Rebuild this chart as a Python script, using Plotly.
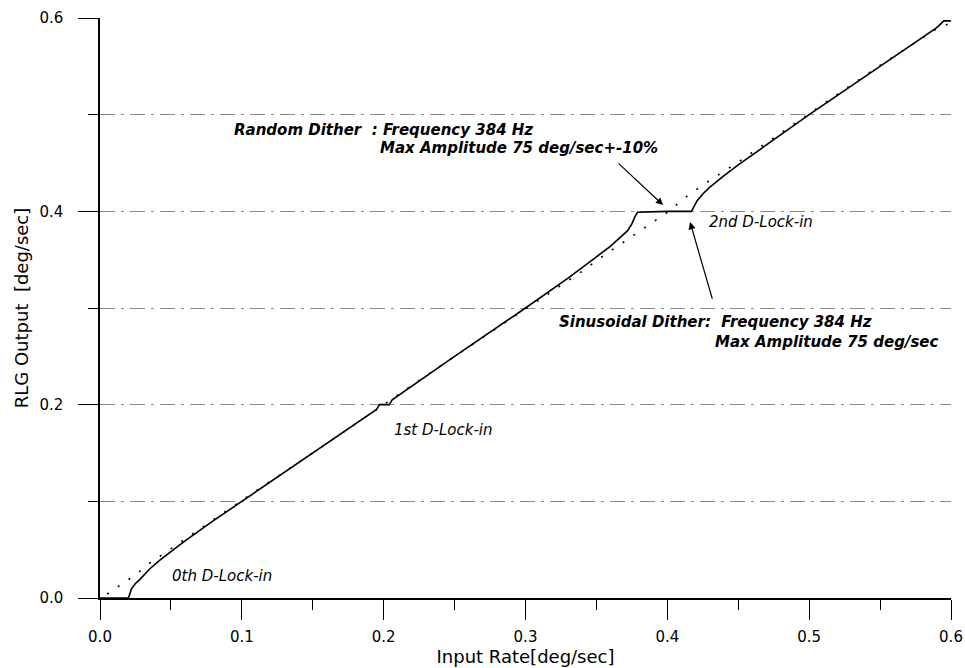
import plotly.graph_objects as go

# sinusoidal dither (solid line)
sin_x = [0.000, 0.020, 0.021, 0.022, 0.025, 0.028, 0.035, 0.042, 0.050, 0.060, 0.080, 0.100,
         0.150, 0.190, 0.195, 0.197, 0.204, 0.206, 0.250, 0.300, 0.330, 0.350, 0.360, 0.366,
         0.372, 0.375, 0.377, 0.379, 0.400, 0.417, 0.419, 0.421, 0.425, 0.430, 0.440, 0.450,
         0.500, 0.550, 0.590, 0.595, 0.600]
sin_y = [0.000, 0.000, 0.004, 0.009, 0.015, 0.019, 0.030, 0.039, 0.048, 0.059, 0.080, 0.100,
         0.150, 0.190, 0.195, 0.200, 0.200, 0.205, 0.250, 0.300, 0.331, 0.353, 0.364, 0.372,
         0.380, 0.387, 0.394, 0.399, 0.400, 0.400, 0.405, 0.411, 0.418, 0.425, 0.437, 0.448,
         0.500, 0.550, 0.590, 0.597, 0.597]

# random dither (dotted)
rnd_x = [0.005, 0.010, 0.015, 0.020, 0.025, 0.030, 0.035, 0.040, 0.050, 0.060, 0.080, 0.100,
         0.150, 0.200, 0.250, 0.300, 0.340, 0.350, 0.360, 0.370, 0.380, 0.385, 0.390, 0.395,
         0.400, 0.405, 0.410, 0.415, 0.420, 0.430, 0.450, 0.500, 0.550, 0.590, 0.600]
rnd_y = [0.004, 0.009, 0.014, 0.019, 0.024, 0.030, 0.036, 0.041, 0.051, 0.061, 0.081, 0.101,
         0.150, 0.200, 0.250, 0.299, 0.338, 0.349, 0.359, 0.369, 0.379, 0.384, 0.389, 0.394,
         0.399, 0.405, 0.411, 0.417, 0.422, 0.432, 0.451, 0.501, 0.551, 0.589, 0.595]

FONT = "DejaVu Sans, Liberation Sans, Arial, sans-serif"
GRID = "#8a8a8a"

fig = go.Figure()
fig.add_trace(go.Scatter(x=rnd_x, y=rnd_y, mode="lines",
                         line=dict(color="black", width=1.6, dash="2px,11px"), showlegend=False))
fig.add_trace(go.Scatter(x=sin_x, y=sin_y, mode="lines",
                         line=dict(color="black", width=1.6), showlegend=False))

bi = dict(family=FONT, size=15, color="black", weight="bold", style="italic")
it = dict(family=FONT, size=15, color="black", style="italic")

# text labels
labels = [
    (0.0931, 0.4841, "Random Dither\u00a0 : Frequency 384 Hz", bi),
    (0.196, 0.4655, "Max Amplitude 75 deg/sec+-10%", bi),
    (0.3222, 0.2855, "Sinusoidal Dither:\u00a0 Frequency 384 Hz", bi),
    (0.4322, 0.2648, "Max Amplitude 75 deg/sec", bi),
    (0.428, 0.389, "2nd D-Lock-in", it),
    (0.2059, 0.1738, "1st D-Lock-in", it),
    (0.0494, 0.0228, "0th D-Lock-in", it),
]
for lx, ly, txt, f in labels:
    fig.add_annotation(x=lx, y=ly, text=txt, showarrow=False, xanchor="left",
                       yanchor="middle", font=f)

# arrows
fig.add_annotation(x=0.397, y=0.4065, ax=0.3645, ay=0.451, axref="x", ayref="y",
                   text="", showarrow=True, arrowhead=2, arrowsize=1.2, arrowwidth=1.2,
                   arrowcolor="black")
fig.add_annotation(x=0.416, y=0.389, ax=0.432, ay=0.308, axref="x", ayref="y",
                   text="", showarrow=True, arrowhead=2, arrowsize=1.2, arrowwidth=1.2,
                   arrowcolor="black")

fig.update_layout(
    width=965, height=668,
    margin=dict(l=100, r=14, t=18, b=70),
    plot_bgcolor="white", paper_bgcolor="white",
    font=dict(family=FONT, color="black"),
)
fig.update_xaxes(
    range=[0, 0.6], tick0=0, dtick=0.1, tickformat=".1f", automargin=False,
    ticks="outside", ticklen=20, tickwidth=1.3, tickcolor="black",
    showline=True, linecolor="black", linewidth=1.5,
    showgrid=False, zeroline=False,
    tickfont=dict(size=15), ticklabelstandoff=4,
    minor=dict(dtick=0.05, ticks="outside", ticklen=10, tickcolor="black", tickwidth=1.3),
    title=dict(text="Input Rate[deg/sec]", font=dict(size=18), standoff=2),
)
fig.update_yaxes(
    range=[0, 0.6], tick0=0, dtick=0.2, tickformat=".1f", automargin=False,
    ticks="outside", ticklen=20, tickwidth=1.3, tickcolor="black",
    showline=True, linecolor="black", linewidth=1.5,
    showgrid=True, gridcolor=GRID, gridwidth=1, griddash="longdashdot",
    zeroline=False,
    tickfont=dict(size=15), ticklabelstandoff=12,
    minor=dict(dtick=0.1, ticks="outside", ticklen=10, tickcolor="black", tickwidth=1.3,
               showgrid=True, gridcolor=GRID, gridwidth=1, griddash="longdashdot"),
    title=dict(text="RLG Output\u00a0 [deg/sec]", font=dict(size=18), standoff=6),
)

# drop the default page margin so the figure sits at the window's corner
fig.write_html("out.html", config={"displayModeBar": False},
               post_script="document.body.style.margin='0';")
